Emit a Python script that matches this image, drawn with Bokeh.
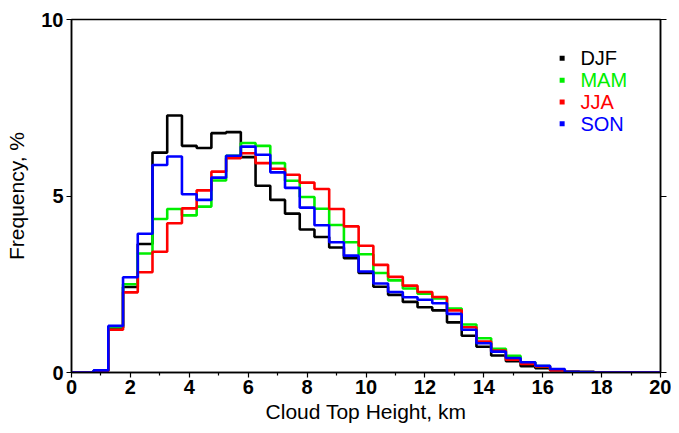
import numpy as np
from bokeh.plotting import figure
from bokeh.models import FixedTicker, LinearAxis, Range1d
from bokeh.core.properties import value
from bokeh.embed import file_html
from bokeh.resources import INLINE

# bin centres (km), 0.5 km bins
centers = [i * 0.5 for i in range(41)]

djf = [0, 0, 0.05, 1.27, 2.42, 3.64, 6.23, 7.28, 6.42, 6.36, 6.78, 6.81, 6.10, 5.29, 4.89,
       4.50, 4.05, 3.84, 3.54, 3.24, 2.82, 2.43, 2.20, 2.00, 1.85, 1.76, 1.42, 1.04, 0.73,
       0.48, 0.32, 0.18, 0.12, 0.07, 0.02, 0.01, 0, 0, 0, 0, 0]
mam = [0, 0, 0.05, 1.28, 2.50, 3.37, 4.35, 4.63, 4.45, 4.70, 5.44, 6.14, 6.50, 6.42, 5.93,
       5.43, 4.97, 4.64, 4.18, 3.69, 3.35, 2.82, 2.61, 2.38, 2.23, 2.10, 1.81, 1.36, 0.97,
       0.67, 0.47, 0.29, 0.18, 0.08, 0.02, 0.01, 0, 0, 0, 0, 0]
jja = [0, 0, 0.04, 1.21, 2.27, 2.84, 3.42, 4.23, 4.65, 5.16, 5.69, 6.07, 6.21, 5.93, 5.77,
       5.60, 5.38, 5.20, 4.63, 4.14, 3.59, 3.05, 2.71, 2.46, 2.28, 2.14, 1.76, 1.28, 0.88,
       0.62, 0.36, 0.24, 0.17, 0.06, 0.02, 0.01, 0, 0, 0, 0, 0]
son = [0, 0, 0.06, 1.32, 2.70, 3.93, 5.88, 6.12, 5.05, 4.89, 5.52, 6.14, 6.40, 6.17, 5.67,
       5.23, 4.67, 4.17, 3.69, 3.31, 2.86, 2.52, 2.28, 2.13, 2.06, 1.96, 1.66, 1.21, 0.83,
       0.59, 0.41, 0.29, 0.19, 0.10, 0.02, 0.01, 0, 0, 0, 0, 0]

series_names = ["DJF", "MAM", "JJA", "SON"]
series_colors = ["#000000", "#00ee00", "#ff0000", "#0000ff"]
series_values = [djf, mam, jja, son]

x_ticks = [0, 2, 4, 6, 8, 10, 12, 14, 16, 18, 20]
x_minor = [1, 3, 5, 7, 9, 11, 13, 15, 17, 19]
y_ticks = [0, 5, 10]

FONT = "Liberation Sans"

p = figure(width=671, height=425, output_backend="svg", toolbar_location=None,
           x_range=Range1d(0, 20), y_range=Range1d(0, 10),
           min_border_left=71, min_border_right=11, min_border_top=19, min_border_bottom=53)
p.grid.visible = False
p.background_fill_color = "white"
p.border_fill_color = "white"
p.outline_line_color = "black"
p.outline_line_width = 1.5

for name, col, vals in zip(series_names, series_colors, series_values):
    p.step(x=centers, y=vals, mode="center", line_color=col, line_width=2.6)

# axes
xa = p.xaxis[0]
xa.ticker = FixedTicker(ticks=x_ticks, minor_ticks=x_minor)
xa.axis_label = "Cloud Top Height, km"
ya = p.yaxis[0]
ya.ticker = FixedTicker(ticks=y_ticks, minor_ticks=[])
ya.axis_label = "Frequency, %"
for ax in (xa, ya):
    ax.axis_line_color = "black"
    ax.axis_line_width = 1.5
    ax.major_tick_line_color = "black"
    ax.major_tick_line_width = 1.2
    ax.minor_tick_line_color = "black"
    ax.minor_tick_line_width = 1.2
    ax.major_tick_in = 0
    ax.major_tick_out = 5
    ax.minor_tick_in = 0
    ax.minor_tick_out = 3
    ax.major_label_text_font = FONT
    ax.major_label_text_font_style = "bold"
    ax.major_label_text_font_size = "20px"
    ax.major_label_text_color = "black"
    ax.axis_label_text_font = FONT
    ax.axis_label_text_font_style = "normal"
    ax.axis_label_text_font_size = "21px"
    ax.axis_label_text_color = "black"
xa.major_label_standoff = 2
xa.axis_label_standoff = 3
ya.major_label_standoff = 3
ya.axis_label_standoff = 10

ra = LinearAxis(ticker=FixedTicker(ticks=y_ticks, minor_ticks=[]))
ra.major_label_text_font_size = "0px"
ra.major_label_text_color = None
ra.axis_line_color = "black"
ra.axis_line_width = 1.5
ra.major_tick_in = 0
ra.major_tick_out = 6
ra.major_tick_line_width = 1.2
ra.minor_tick_line_color = None
ra.major_label_standoff = 0
p.add_layout(ra, "right")

# legend (manual, coloured text)
leg_marker_x = 16.66
leg_text_x = 17.28
leg_y = [8.90, 8.28, 7.66, 7.05]
p.scatter(x=[leg_marker_x] * 4, y=leg_y, marker="square", size=5,
          fill_color=series_colors, line_color=None)
p.text(x=[leg_text_x] * 4, y=leg_y, text=series_names, text_color=series_colors,
       text_font=value(FONT), text_font_size="20px", text_baseline="middle",
       text_align="left")

open("out.html", "w").write(file_html(p, INLINE))
